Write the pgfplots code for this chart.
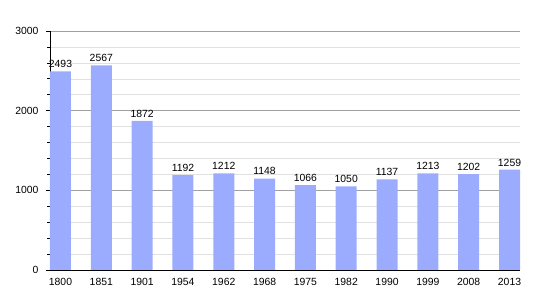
\documentclass[border=0pt]{standalone}
\usepackage{fontspec}
\setmainfont{Liberation Sans}
\usepackage{pgfplots}
\pgfplotsset{compat=1.18}
\definecolor{barblue}{RGB}{155,172,255}
\begin{document}
\begin{tikzpicture}[x=1pt,y=1pt]
\path[use as bounding box] (-50,-30) rectangle (500,270);
\begin{axis}[
  at={(0,0)}, anchor=south west,
  scale only axis, width=470pt, height=239pt,
  xmin=-0.257, xmax=11.257,
  ymin=0, ymax=3000,
  axis x line*=bottom, axis y line*=left,
  axis line style={-, black, line width=0.8pt},
  xtick=data,
  xticklabels={1800,1851,1901,1954,1962,1968,1975,1982,1990,1999,2008,2013},
  x tick style={draw=none},
  ytick={0,1000,2000,3000},
  minor y tick num=4,
  ymajorgrids, yminorgrids,
  major grid style={draw={rgb,255:red,160;green,160;blue,160}, line width=0.6pt},
  minor grid style={draw={rgb,255:red,225;green,225;blue,225}, line width=0.5pt},
  y tick style={black, line width=0.6pt},
  tick align=outside,
  major tick length=4pt, minor tick length=3pt,
  tick label style={font=\fontsize{10.4}{12}\selectfont},
  yticklabel style={xshift=-4pt},
  xticklabel style={yshift=-1pt},
  /pgf/number format/assume math mode=true,
  /pgf/number format/set thousands separator={},
  ybar, bar width=21pt,
  nodes near coords,
  nodes near coords style={font=\fontsize{10.4}{12}\selectfont, black, /pgf/number format/set thousands separator={}, /pgf/number format/assume math mode=true},
  clip=false,
]
\addplot[fill=barblue, draw=none] coordinates {
(0,2493) (1,2567) (2,1872) (3,1192) (4,1212) (5,1148)
(6,1066) (7,1050) (8,1137) (9,1213) (10,1202) (11,1259)};
\end{axis}
\end{tikzpicture}
\end{document}
